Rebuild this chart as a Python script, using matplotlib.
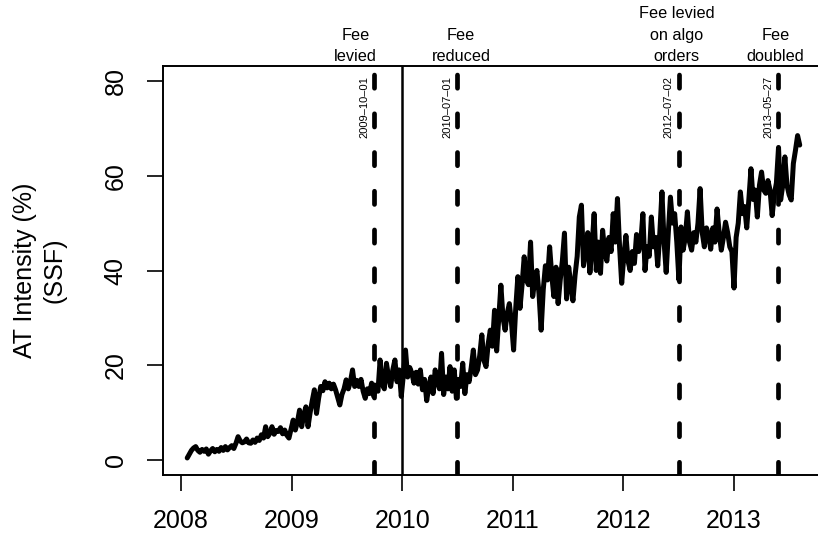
import matplotlib
matplotlib.use("Agg")
import matplotlib.pyplot as plt
import pandas as pd

plt.rcParams['font.family'] = ['Liberation Sans', 'DejaVu Sans']

# weekly AT intensity (%)
start_date = '2008-01-22'
at_intensity = [
    0.4, 1.2, 2.0, 2.5, 2.8, 2.0, 1.6, 2.2, 1.8, 2.3,
    1.2, 1.9, 2.4, 1.7, 2.2, 1.8, 2.6, 2.0, 2.8, 2.1,
    2.6, 3.0, 2.4, 3.5, 4.9, 4.0, 3.6, 3.8, 4.4, 3.6,
    3.5, 4.2, 3.7, 4.6, 4.1, 5.3, 4.6, 7.0, 4.9, 5.6,
    7.0, 5.4, 6.2, 6.0, 6.8, 5.5, 6.3, 5.2, 4.6, 6.5,
    8.4, 6.3, 8.0, 10.5, 7.0, 9.5, 11.2, 7.0, 10.0, 12.5,
    14.8, 9.8, 13.0, 15.5, 14.6, 16.5, 15.2, 16.2, 15.0, 16.0,
    14.8, 13.2, 11.6, 13.8, 15.0, 16.9, 15.0, 16.5, 19.0, 15.5,
    16.8, 15.5, 17.0, 14.5, 13.0, 15.0, 14.0, 16.2, 13.4, 15.5,
    14.5, 21.1, 16.0, 15.0, 20.4, 17.5, 15.5, 19.0, 21.1, 16.5,
    19.0, 13.4, 18.0, 23.2, 17.5, 19.5, 18.3, 16.2, 18.5, 16.0,
    19.0, 14.8, 17.0, 12.5, 15.5, 17.5, 14.0, 19.0, 16.5, 15.0,
    22.5, 13.8, 17.5, 15.0, 19.7, 14.5, 19.0, 13.0, 17.0, 15.5,
    20.4, 14.0, 18.0, 16.5, 19.5, 23.2, 18.0, 19.0, 22.0, 26.4,
    21.0, 19.7, 24.5, 27.4, 24.0, 31.6, 23.0, 30.0, 36.9, 30.0,
    27.4, 31.0, 33.0, 29.0, 23.2, 32.0, 38.7, 32.0, 37.0, 42.9,
    38.0, 37.0, 46.0, 34.5, 38.0, 40.0, 35.0, 27.4, 36.0, 41.0,
    38.0, 45.0, 39.0, 34.5, 40.7, 33.0, 38.0, 42.0, 47.9, 34.0,
    40.7, 37.0, 33.6, 39.0, 43.0, 51.3, 53.8, 41.0, 44.0, 48.0,
    39.5, 45.0, 52.0, 40.0, 46.0, 39.4, 48.5, 44.0, 42.0, 47.0,
    44.0, 52.0, 46.0, 55.2, 45.0, 37.3, 43.0, 47.4, 42.0, 40.0,
    44.0, 41.5, 47.6, 44.0, 46.0, 52.0, 40.0, 45.0, 43.0, 51.3,
    45.0, 47.0, 41.0, 48.0, 56.6, 46.0, 39.6, 48.0, 55.5, 50.0,
    52.0, 46.0, 38.0, 49.2, 44.3, 47.0, 52.4, 46.0, 44.3, 48.0,
    46.0, 50.0, 57.3, 48.0, 45.0, 49.0, 47.6, 44.5, 49.0, 46.0,
    53.0, 48.0, 44.3, 47.0, 50.2, 48.0, 45.0, 44.0, 36.3, 47.0,
    50.0, 56.6, 52.0, 53.5, 49.0, 55.0, 61.5, 55.0, 57.0, 51.3,
    58.0, 60.8, 57.0, 56.3, 59.0, 57.0, 51.6, 56.0, 58.5, 66.0,
    54.9, 58.0, 64.0, 58.0, 56.0, 54.9, 62.6, 65.4, 68.5, 66.5,
]

event_dates = ['2009-10-01', '2010-07-01', '2012-07-02', '2013-05-27']
event_labels = ['Fee\nlevied', 'Fee\nreduced', 'Fee levied\non algo\norders', 'Fee\ndoubled']
label_dates = ['2009-07-30', '2010-07-15', '2012-06-26', '2013-05-18']
solid_date = '2010-01-01'

y_ticks = [0, 20, 40, 60, 80]
x_tick_years = [2008, 2009, 2010, 2011, 2012, 2013]
y_label = 'AT Intensity (%)\n(SSF)'

dates = pd.date_range(start=start_date, periods=len(at_intensity), freq='7D')

W, H = 818, 538
fig = plt.figure(figsize=(W / 100, H / 100), dpi=100)
ax = fig.add_axes([163 / W, (H - 475) / H, (820 - 163) / W, (475 - 66) / H])

ax.plot(dates, at_intensity, color='black', lw=3.6, solid_joinstyle='round',
        solid_capstyle='round', zorder=3)

for d in event_dates:
    ax.axvline(pd.Timestamp(d), color='black', lw=3.4, linestyle=(0, (2.8, 5.4)),
               dash_capstyle='round', zorder=2)
ax.axvline(pd.Timestamp(solid_date), color='black', lw=1.8, zorder=2)

ax.set_xlim(pd.Timestamp('2007-11-03'), pd.Timestamp('2013-10-12'))
ax.set_ylim(-3.2, 83.2)

ax.set_yticks(y_ticks)
ax.set_yticklabels([str(v) for v in y_ticks])
ax.set_xticks([pd.Timestamp(f'{y}-01-01') for y in x_tick_years])
ax.set_xticklabels([str(y) for y in x_tick_years])

ax.tick_params(axis='both', which='major', labelsize=18, length=11.5, width=1.2, direction='out')
ax.tick_params(axis='y', pad=14)
ax.tick_params(axis='x', pad=13)
for lab in ax.get_yticklabels():
    lab.set_rotation(90)
    lab.set_va('center')
    lab.set_ha('right')

for s in ['left', 'bottom', 'top', 'right']:
    ax.spines[s].set_linewidth(1.4)

fig.text(39.5 / W, (H - 270.5) / H, y_label, rotation=90, ha='center', va='center',
         fontsize=18, multialignment='center', linespacing=1.3)

for d, lab, ld in zip(event_dates, event_labels, label_dates):
    ax.annotate(d.replace('-', '\u2013'), xy=(pd.Timestamp(d), 1), xycoords=('data', 'axes fraction'),
                xytext=(-5, -10), textcoords='offset pixels', rotation=90,
                ha='right', va='top', fontsize=8)
    ax.annotate(lab, xy=(pd.Timestamp(ld), 1), xycoords=('data', 'axes fraction'),
                xytext=(0, 2.5), textcoords='offset pixels', ha='center', va='bottom',
                fontsize=11.7, multialignment='center', linespacing=1.5, annotation_clip=False)

fig.savefig('out.png', dpi=100)
